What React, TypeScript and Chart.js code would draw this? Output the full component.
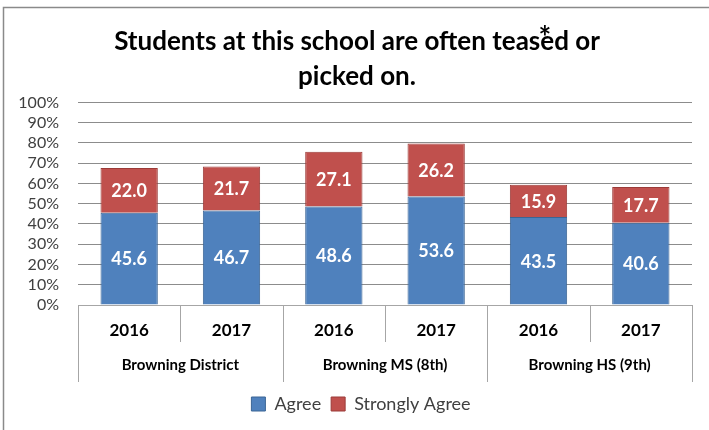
import React, { useEffect, useRef } from 'react';
import { Chart, registerables } from 'chart.js';

Chart.register(...registerables);

const titleLines = ['Students at this school are often teased or', 'picked on.'];
const years = ['2016', '2017', '2016', '2017', '2016', '2017'];
const groups = ['Browning District', 'Browning MS (8th)', 'Browning HS (9th)'];
const agree = [45.6, 46.7, 48.6, 53.6, 43.5, 40.6];
const stronglyAgree = [22.0, 21.7, 27.1, 26.2, 15.9, 17.7];
const seriesNames = ['Agree', 'Strongly Agree'];

const FONT = 'Lato, Carlito, Calibri, "Open Sans", sans-serif';
const BLUE = '#4F81BD';
const RED = '#C0504D';

const overlay = {
  id: 'overlay',
  afterLayout(chart: any) {
    if (chart.legend) {
      chart.legend.left += 15;
      chart.legend.right += 15;
      chart.legend.top += 4;
      chart.legend.bottom += 4;
    }
    if (chart.titleBlock) {
      chart.titleBlock.left += 11;
      chart.titleBlock.right += 11;
    }
  },
  afterDatasetsDraw(chart: any) {
    const ctx = chart.ctx;
    ctx.save();
    ctx.fillStyle = '#ffffff';
    ctx.font = `bold 18px ${FONT}`;
    ctx.textAlign = 'center';
    ctx.textBaseline = 'middle';
    chart.data.datasets.forEach((ds: any, di: number) => {
      const meta = chart.getDatasetMeta(di);
      meta.data.forEach((bar: any, i: number) => {
        const { x, y, base } = bar.getProps(['x', 'y', 'base'], true);
        ctx.fillText(Number(ds.data[i]).toFixed(1), x, (y + base) / 2 + 1);
      });
    });
    ctx.restore();
  },
  afterDraw(chart: any) {
    const ctx = chart.ctx;
    const xs = chart.scales.x;
    const area = chart.chartArea;
    const n = years.length;
    const bounds: number[] = [area.left];
    for (let i = 0; i < n - 1; i++) {
      bounds.push((xs.getPixelForValue(i) + xs.getPixelForValue(i + 1)) / 2);
    }
    bounds.push(area.right);
    const top = area.bottom;
    const shortBottom = top + 37;
    const longBottom = top + 77;
    ctx.save();
    ctx.strokeStyle = '#a6a6a6';
    ctx.lineWidth = 1;
    bounds.forEach((bx, k) => {
      const isLong = k % 2 === 0;
      const px = Math.round(bx) + 0.5;
      ctx.beginPath();
      ctx.moveTo(px, top);
      ctx.lineTo(px, isLong ? longBottom : shortBottom);
      ctx.stroke();
    });
    // group labels
    ctx.fillStyle = '#000000';
    ctx.font = `bold 15px ${FONT}`;
    ctx.textAlign = 'center';
    ctx.textBaseline = 'alphabetic';
    groups.forEach((g, gi) => {
      const cx = (bounds[gi * 2] + bounds[gi * 2 + 2]) / 2;
      ctx.fillText(g, cx, top + 65);
    });
    // asterisk over the title
    ctx.textBaseline = 'middle';
    ctx.font = `bold 30px ${FONT}`;
    ctx.fillText('*', 545, 38);
    // frame
    ctx.strokeStyle = '#8a8a8a';
    ctx.lineWidth = 1.5;
    ctx.beginPath();
    ctx.moveTo(3.5, chart.height);
    ctx.lineTo(3.5, 7.5);
    ctx.lineTo(chart.width, 7.5);
    ctx.stroke();
    ctx.restore();
  },
};

export default function App() {
  const ref = useRef<HTMLCanvasElement | null>(null);
  useEffect(() => {
    if (!ref.current) return;
    const chart = new Chart(ref.current, {
      type: 'bar',
      data: {
        labels: years,
        datasets: [
          {
            label: seriesNames[0],
            data: agree,
            backgroundColor: BLUE,
            borderColor: '#3B6595',
            borderWidth: 1,
            barPercentage: 0.8,
            categoryPercentage: 0.7,
          },
          {
            label: seriesNames[1],
            data: stronglyAgree,
            backgroundColor: RED,
            borderColor: '#9B3B38',
            borderWidth: 1,
            barPercentage: 0.8,
            categoryPercentage: 0.7,
          },
        ],
      },
      options: {
        responsive: false,
        animation: false,
        layout: { padding: { left: 0, right: 17, top: 0, bottom: 11 } },
        plugins: {
          title: {
            display: true,
            text: titleLines,
            color: '#000000',
            font: { family: FONT, size: 26, weight: 'bold', lineHeight: 1.346 },
            padding: { top: 24.5, bottom: 8 },
          },
          legend: {
            position: 'bottom',
            labels: {
              boxWidth: 14,
              boxHeight: 14,
              color: '#404040',
              font: { family: FONT, size: 18 },
              padding: 10,
            },
          },
          tooltip: { enabled: false },
        },
        scales: {
          x: {
            stacked: true,
            grid: { display: false, drawTicks: false },
            border: { display: true, color: '#a6a6a6' },
            ticks: { color: '#000000', font: { family: FONT, size: 17, weight: 'bold' }, padding: 15 },
            afterFit: (s: any) => { s.height = 76; },
          },
          y: {
            stacked: true,
            min: 0,
            max: 100,
            grid: { color: '#8c8c8c', drawTicks: false },
            border: { display: false },
            ticks: {
              stepSize: 10,
              autoSkip: false,
              padding: 19,
              color: '#404040',
              font: { family: FONT, size: 16 },
              callback: (v: any) => `${v}%`,
            },
            afterFit: (s: any) => { s.width = 78; },
          },
        },
      },
      plugins: [overlay],
    });
    return () => chart.destroy();
  }, []);
  return (
    <div style={{ position: 'absolute', left: 0, top: 0, width: 709, height: 430, background: '#fff' }}>
      <canvas ref={ref} width={709} height={430} style={{ display: 'block' }} />
    </div>
  );
}
